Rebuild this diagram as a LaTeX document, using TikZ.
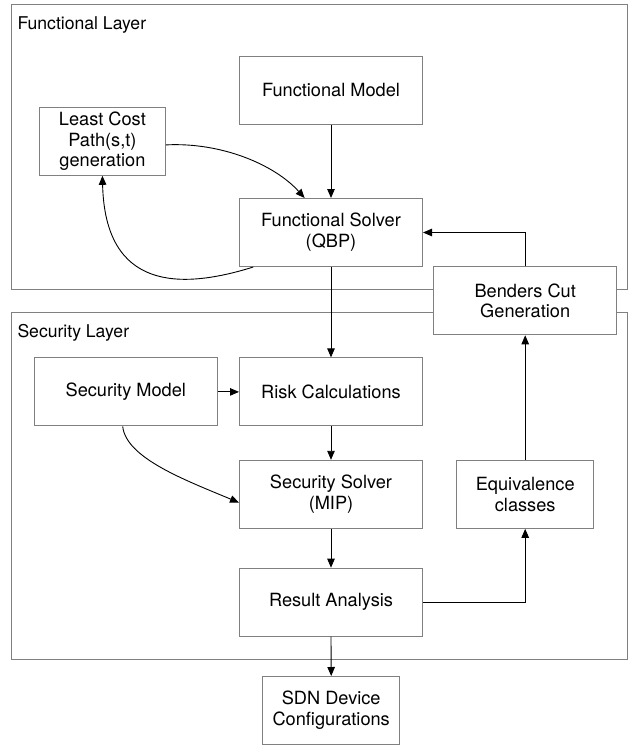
\documentclass[tikz,border=0pt]{standalone}
\usepackage{fontspec}
\setmainfont{TeX Gyre Heros}
\usetikzlibrary{arrows.meta}
\definecolor{boxgray}{RGB}{128,128,128}
\begin{document}
\begin{tikzpicture}[x=1pt,y=-1pt,
  font=\fontsize{18.2}{20.8}\selectfont,
  box/.style={draw=boxgray, line width=1pt, fill=white, align=center, inner sep=0pt, minimum height=68pt},
  wide/.style={box, minimum width=183pt},
  frame/.style={draw=boxgray, line width=1pt},
  arr/.style={draw=black, line width=0.9pt, -{Triangle[length=9pt,width=7.5pt]}},
  layerlabel/.style={anchor=base west, inner sep=0pt, font=\fontsize{17.6}{20}\selectfont}
]
\useasboundingbox (0,0) rectangle (629,745);
% layer frames
\draw[frame] (11.3,4.7) rectangle (627.8,289.3);
\draw[frame] (11.3,312.7) rectangle (627.8,659.3);
\node[layerlabel] (fl) at (17.3,29.3) {Functional Layer};
\node[layerlabel] (sl) at (17.3,337.3) {Security Layer};
% boxes
\node[wide] (fm) at (331,90.2) {Functional Model};
\node[box, minimum width=126pt] (lc) at (102.4,141.3) {Least Cost\\Path(s,t)\\generation};
\node[wide] (fs) at (331,232.5) {Functional Solver\\(QBP)};
\node[wide] (bc) at (525.2,300.8) {Benders Cut\\Generation};
\node[wide] (sm) at (125.8,391.9) {Security Model};
\node[wide] (rc) at (331,391.9) {Risk Calculations};
\node[wide] (ss) at (331,494.3) {Security Solver\\(MIP)};
\node[box, minimum width=137pt] (ec) at (525.2,494.3) {Equivalence\\classes};
\node[wide] (ra) at (331,602.2) {Result Analysis};
\node[box, minimum width=137pt] (sdn) at (331.2,710.5) {SDN Device\\Configurations};
% connectors
\draw[arr] (fm.south) -- (fs.north);
\draw[arr] ([yshift=-3.6pt]lc.east) .. controls (222,142) and (275,165) .. ([xshift=-26.4pt]fs.north);
\draw[arr] ([xshift=-77.7pt]fs.south) .. controls (180,290) and (105,290) .. (lc.south);
\draw[arr] (bc.north) |- (fs.east);
\draw[arr] (fs.south) -- (rc.north);
\draw[arr] (sm.east) -- (rc.west);
\draw[arr] ([xshift=-3.1pt]sm.south) .. controls (126,458) and (185,480) .. ([yshift=-8.3pt]ss.west);
\draw[arr] (rc.south) -- (ss.north);
\draw[arr] (ss.south) -- (ra.north);
\draw[arr] (ra.east) -| (ec.south);
\draw[arr] (ec.north) -- (bc.south);
\draw[arr] (ra.south) -- (sdn.north);
\end{tikzpicture}
\end{document}
